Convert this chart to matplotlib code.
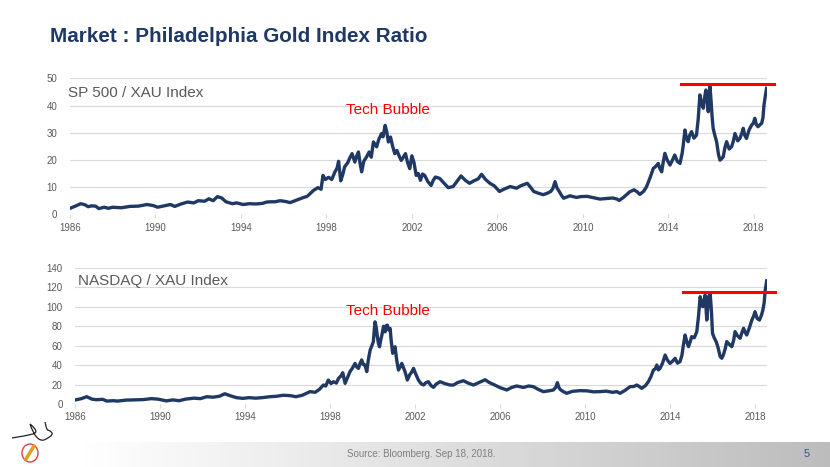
import matplotlib
matplotlib.use("Agg")
import matplotlib.pyplot as plt
import numpy as np
from matplotlib.patches import Ellipse, PathPatch
from matplotlib.path import Path

plt.rcParams['font.family'] = ['Liberation Sans', 'DejaVu Sans']

# ---------------- data ----------------
sp_years = [1986.0, 1986.25, 1986.5, 1986.7, 1986.85, 1987.0, 1987.2, 1987.35, 1987.6, 1987.8,
            1988.0, 1988.4, 1988.8, 1989.2, 1989.6, 1989.9, 1990.1, 1990.4, 1990.7, 1990.9,
            1991.2, 1991.5, 1991.8, 1992.0, 1992.3, 1992.5, 1992.7, 1992.9, 1993.1, 1993.3,
            1993.6, 1993.8, 1994.1, 1994.4, 1994.7, 1995.0, 1995.2, 1995.4, 1995.6, 1995.83,
            1996.1, 1996.3, 1996.6, 1996.9, 1997.1, 1997.4, 1997.6, 1997.75, 1997.84, 1997.95,
            1998.1, 1998.25, 1998.4, 1998.5, 1998.57, 1998.67, 1998.78, 1998.85, 1999.0, 1999.1,
            1999.2, 1999.33, 1999.42, 1999.5, 1999.57, 1999.65, 1999.75, 1999.88, 2000.0, 2000.1,
            2000.2, 2000.35, 2000.45, 2000.58, 2000.65, 2000.75, 2000.82, 2000.9, 2001.0, 2001.1,
            2001.2, 2001.3, 2001.4, 2001.5, 2001.6, 2001.7, 2001.8, 2001.9, 2002.0, 2002.1,
            2002.2, 2002.3, 2002.4, 2002.5, 2002.6, 2002.75, 2002.9, 2003.0, 2003.1, 2003.3,
            2003.5, 2003.7, 2003.93, 2004.1, 2004.3, 2004.5, 2004.7, 2004.9, 2005.1, 2005.26,
            2005.45, 2005.65, 2005.85, 2006.1, 2006.3, 2006.6, 2006.9, 2007.1, 2007.4, 2007.55,
            2007.7, 2007.9, 2008.15, 2008.35, 2008.5, 2008.6, 2008.7, 2008.8, 2008.85, 2009.0,
            2009.1, 2009.4, 2009.7, 2009.9, 2010.2, 2010.5, 2010.8, 2011.1, 2011.4, 2011.6,
            2011.7, 2011.9, 2012.2, 2012.4, 2012.55, 2012.67, 2012.85, 2012.98, 2013.15, 2013.3,
            2013.4, 2013.53, 2013.6, 2013.69, 2013.76, 2013.84, 2013.95, 2014.08, 2014.2, 2014.3,
            2014.42, 2014.55, 2014.65, 2014.7, 2014.78, 2014.85, 2014.93, 2015.0, 2015.09, 2015.2,
            2015.32, 2015.4, 2015.48, 2015.55, 2015.64, 2015.7, 2015.76, 2015.82, 2015.87, 2015.92,
            2015.95, 2016.0, 2016.05, 2016.1, 2016.18, 2016.26, 2016.35, 2016.42, 2016.5, 2016.57,
            2016.65, 2016.73, 2016.85, 2016.96, 2017.05, 2017.12, 2017.25, 2017.35, 2017.45, 2017.51,
            2017.58, 2017.66, 2017.78, 2017.9, 2017.98, 2018.05, 2018.12, 2018.2, 2018.3, 2018.37,
            2018.43, 2018.48, 2018.55, 2018.6]
sp_values = [2.2, 3.0, 3.9, 3.5, 2.8, 3.1, 3.0, 2.1, 2.6, 2.2,
             2.6, 2.4, 2.9, 3.0, 3.6, 3.2, 2.6, 3.1, 3.6, 2.9,
             3.8, 4.5, 4.2, 5.0, 4.8, 5.7, 5.0, 6.5, 6.0, 4.6,
             3.9, 4.2, 3.6, 3.9, 3.8, 4.0, 4.5, 4.6, 4.6, 5.0,
             4.7, 4.3, 5.2, 6.1, 6.6, 8.8, 9.8, 9.2, 14.3, 12.8,
             13.6, 12.8, 15.6, 17.0, 19.5, 12.3, 15.0, 17.4, 19.0, 20.8,
             22.3, 19.2, 21.5, 22.9, 19.0, 15.6, 19.5, 21.1, 22.9, 21.0,
             26.6, 24.8, 27.5, 29.7, 28.5, 32.7, 30.5, 26.6, 28.4, 25.0,
             22.3, 23.5, 21.5, 19.8, 21.0, 22.3, 19.0, 16.8, 21.5, 19.0,
             14.3, 15.0, 12.5, 14.8, 14.3, 12.0, 10.6, 12.5, 13.7, 13.2,
             11.5, 9.8, 10.2, 12.0, 14.1, 12.5, 11.4, 12.3, 13.0, 14.7,
             12.8, 11.4, 10.5, 8.4, 9.2, 10.2, 9.6, 10.5, 11.4, 10.0,
             8.4, 7.8, 7.2, 7.8, 8.4, 9.5, 12.0, 9.5, 9.0, 7.0,
             5.9, 6.8, 6.2, 6.5, 6.6, 6.1, 5.6, 5.8, 6.0, 5.6,
             5.1, 6.2, 8.3, 9.0, 8.2, 7.3, 8.5, 10.1, 13.5, 16.9,
             17.5, 18.7, 17.0, 15.6, 19.0, 22.4, 20.0, 18.1, 20.0, 21.8,
             19.5, 18.7, 22.5, 25.4, 31.0, 28.0, 26.7, 29.0, 30.4, 28.0,
             29.1, 35.0, 43.9, 41.0, 39.0, 43.0, 45.7, 42.0, 37.7, 44.0,
             47.0, 42.0, 36.0, 31.6, 29.0, 26.7, 22.0, 19.9, 20.5, 21.1,
             24.5, 26.7, 24.0, 24.8, 27.0, 29.7, 27.0, 27.9, 30.0, 31.6,
             29.0, 27.9, 31.0, 32.8, 33.5, 35.3, 33.0, 32.2, 33.0, 33.4,
             35.5, 40.2, 44.0, 46.3]

nq_years = [1986.0, 1986.3, 1986.55, 1986.8, 1987.0, 1987.3, 1987.5, 1987.8, 1988.0, 1988.4,
            1988.8, 1989.2, 1989.6, 1989.9, 1990.3, 1990.6, 1990.9, 1991.2, 1991.6, 1991.9,
            1992.2, 1992.5, 1992.8, 1993.05, 1993.3, 1993.6, 1993.9, 1994.2, 1994.5, 1994.8,
            1995.18, 1995.5, 1995.8, 1996.12, 1996.4, 1996.7, 1997.06, 1997.3, 1997.5, 1997.69,
            1997.8, 1997.92, 1998.05, 1998.16, 1998.3, 1998.4, 1998.52, 1998.6, 1998.71, 1998.82,
            1998.94, 1999.06, 1999.18, 1999.26, 1999.34, 1999.42, 1999.49, 1999.57, 1999.65, 1999.73,
            1999.8, 1999.89, 1999.97, 2000.04, 2000.08, 2000.12, 2000.18, 2000.23, 2000.28, 2000.33,
            2000.38, 2000.44, 2000.52, 2000.59, 2000.65, 2000.7, 2000.76, 2000.83, 2000.88, 2000.95,
            2001.0, 2001.06, 2001.14, 2001.22, 2001.3, 2001.38, 2001.46, 2001.53, 2001.64, 2001.75,
            2001.85, 2001.93, 2002.05, 2002.16, 2002.28, 2002.4, 2002.52, 2002.63, 2002.75, 2002.87,
            2003.0, 2003.18, 2003.4, 2003.65, 2003.81, 2004.0, 2004.28, 2004.5, 2004.75, 2005.0,
            2005.3, 2005.5, 2005.75, 2006.0, 2006.32, 2006.55, 2006.79, 2007.1, 2007.35, 2007.57,
            2007.8, 2008.04, 2008.3, 2008.51, 2008.62, 2008.7, 2008.78, 2008.86, 2009.0, 2009.14,
            2009.4, 2009.77, 2010.1, 2010.4, 2010.71, 2011.0, 2011.3, 2011.49, 2011.65, 2011.85,
            2012.12, 2012.3, 2012.44, 2012.55, 2012.67, 2012.85, 2012.98, 2013.1, 2013.22, 2013.3,
            2013.38, 2013.45, 2013.53, 2013.65, 2013.77, 2013.88, 2014.0, 2014.12, 2014.24, 2014.35,
            2014.47, 2014.56, 2014.63, 2014.71, 2014.8, 2014.87, 2014.95, 2015.02, 2015.14, 2015.26,
            2015.34, 2015.42, 2015.48, 2015.54, 2015.6, 2015.65, 2015.69, 2015.73, 2015.77, 2015.81,
            2015.86, 2015.89, 2015.95, 2016.0, 2016.08, 2016.17, 2016.26, 2016.36, 2016.44, 2016.51,
            2016.6, 2016.67, 2016.8, 2016.91, 2017.0, 2017.06, 2017.18, 2017.3, 2017.38, 2017.46,
            2017.53, 2017.61, 2017.73, 2017.85, 2017.93, 2018.0, 2018.1, 2018.21, 2018.3, 2018.37,
            2018.43, 2018.48, 2018.55]
nq_values = [4.1, 5.5, 7.5, 5.0, 4.4, 4.8, 3.0, 3.4, 3.0, 4.0,
             4.2, 4.5, 5.5, 5.0, 3.2, 4.2, 3.4, 5.0, 6.0, 5.5,
             7.5, 7.0, 8.0, 10.5, 8.5, 6.5, 5.8, 6.5, 6.0, 6.5,
             7.5, 8.0, 9.0, 8.6, 7.5, 9.0, 12.7, 12.0, 15.0, 19.5,
             18.5, 24.6, 21.0, 22.9, 21.5, 26.3, 29.0, 32.1, 21.2, 27.0,
             33.2, 37.0, 41.7, 38.0, 36.6, 42.0, 45.2, 40.5, 40.0, 33.2,
             45.0, 55.4, 60.0, 63.9, 75.0, 84.4, 78.0, 69.0, 62.0, 58.8,
             65.0, 70.7, 79.9, 74.1, 80.5, 81.0, 76.0, 77.6, 65.0, 52.1,
             55.0, 58.8, 45.0, 34.9, 38.0, 41.7, 37.0, 33.2, 24.6, 30.0,
             33.0, 36.6, 30.0, 24.6, 21.0, 19.5, 22.0, 22.9, 19.0, 17.1,
             20.5, 22.9, 21.0, 19.5, 19.5, 22.0, 23.9, 21.5, 19.5, 22.0,
             24.9, 22.0, 19.5, 16.8, 14.4, 17.0, 18.5, 17.0, 18.5, 17.8,
             15.0, 12.7, 13.5, 14.4, 17.0, 21.9, 16.5, 14.4, 12.5, 11.0,
             13.0, 13.7, 13.5, 12.5, 12.7, 13.2, 12.0, 12.7, 11.0, 13.5,
             17.8, 18.0, 19.5, 18.0, 16.1, 19.0, 22.9, 28.0, 34.9, 36.0,
             40.0, 35.0, 36.6, 42.0, 50.3, 45.0, 41.7, 44.0, 46.9, 42.0,
             43.5, 50.0, 60.6, 70.9, 63.0, 58.9, 64.0, 69.2, 68.0, 74.3,
             90.0, 110.2, 104.0, 99.9, 106.0, 111.9, 100.0, 86.2, 97.0, 110.2,
             112.0, 113.6, 95.0, 72.6, 68.0, 64.1, 58.0, 48.7, 47.0, 50.3,
             57.0, 64.1, 61.0, 58.9, 66.0, 74.3, 70.0, 67.5, 73.0, 77.8,
             74.0, 70.9, 78.0, 86.2, 90.0, 94.8, 88.0, 86.2, 91.0, 96.5,
             104.0, 117.0, 126.6]

x_ticks = [1986, 1990, 1994, 1998, 2002, 2006, 2010, 2014, 2018]
sp_yticks = [0, 10, 20, 30, 40, 50]
nq_yticks = [0, 20, 40, 60, 80, 100, 120, 140]
sp_red_level = 47.8
nq_red_level = 115
red_span = [2014.6, 2018.95]

title = "Market : Philadelphia Gold Index Ratio"
sp_label = "SP 500 / XAU Index"
nq_label = "NASDAQ / XAU Index"
bubble = "Tech Bubble"
source = "Source: Bloomberg. Sep 18, 2018."
page = "5"

# ---------------- figure ----------------
W, H = 830, 467
fig = plt.figure(figsize=(W / 100, H / 100), dpi=100)
fig.patch.set_facecolor('white')

def px(x, y):
    return x / W, 1 - y / H

NAVY = '#1F3864'
GRID = '#D9D9D9'
TXT = '#595959'

def make_ax(l, r, t, b):
    ax = fig.add_axes([l / W, 1 - b / H, (r - l) / W, (b - t) / H])
    for s in ax.spines.values():
        s.set_visible(False)
    ax.grid(axis='y', color=GRID, lw=0.8)
    ax.set_axisbelow(True)
    ax.tick_params(axis='y', length=0, labelsize=7, labelcolor=TXT, pad=9)
    ax.tick_params(axis='x', length=3, color=GRID, labelsize=7, labelcolor=TXT, pad=3)
    ax.set_xticks(x_ticks)
    ax.set_xticklabels([str(t) for t in x_ticks])
    return ax

ax1 = make_ax(70, 767, 78.3, 214.3)
ax1.plot(sp_years, sp_values, color=NAVY, lw=2.4, solid_joinstyle='round')
ax1.set_xlim(1986, 2018.62)
ax1.set_ylim(0, 50)
ax1.set_yticks(sp_yticks)
ax1.plot(red_span, [sp_red_level, sp_red_level], color='#FF0000', lw=2.2, clip_on=False)

ax2 = make_ax(75, 766.7, 267.7, 404)
ax2.plot(nq_years, nq_values, color=NAVY, lw=2.4, solid_joinstyle='round')
ax2.set_xlim(1986, 2018.55)
ax2.set_ylim(0, 140)
ax2.set_yticks(nq_yticks)
ax2.plot(red_span, [nq_red_level, nq_red_level], color='#FF0000', lw=2.2, clip_on=False)

# texts
fig.text(*px(50, 37), title, fontsize=14.9, fontweight='bold', color=NAVY, va='center', ha='left')
fig.text(*px(68, 93), sp_label, fontsize=11, color=TXT, va='center', ha='left')
fig.text(*px(78, 281), nq_label, fontsize=11, color=TXT, va='center', ha='left')
fig.text(*px(346, 110), bubble, fontsize=11, color='#FF0000', va='center', ha='left')
fig.text(*px(346, 311), bubble, fontsize=11, color='#FF0000', va='center', ha='left')

# footer gradient band
fax = fig.add_axes([0, 0, 1, 25 / H])
fax.set_axis_off()
g = np.linspace(0, 1, 256)
g = np.clip((g - 0.1) / 0.9, 0, 1)
col = np.ones((1, 256, 3))
shade = 1 - 0.26 * g
col[0, :, 0] = shade
col[0, :, 1] = shade
col[0, :, 2] = shade
fax.imshow(col, aspect='auto', extent=[0, 1, 0, 1])
fax.set_xlim(0, 1)
fax.set_ylim(0, 1)

fig.text(*px(421, 454), source, fontsize=7, color='#7F7F7F', va='center', ha='center')
fig.text(*px(807, 454), page, fontsize=8, color='#2F5597', va='center', ha='center')

# simple logo
lax = fig.add_axes([0, 0, 70 / W, 45 / H])
lax.set_xlim(0, 70)
lax.set_ylim(45, 0)
lax.set_axis_off()
lax.add_patch(Ellipse((30, 31), 16, 18, fill=False, ec='#E04040', lw=1.0))
verts = [(12, 16), (25, 14), (33, 12), (40, 10), (30, 2), (36, 20), (44, 18), (58, 12), (48, 8), (40, 14)]
codes = [Path.MOVETO, Path.CURVE3, Path.CURVE3, Path.CURVE3, Path.CURVE3, Path.CURVE3, Path.CURVE3,
         Path.CURVE3, Path.CURVE3, Path.CURVE3]
lax.add_patch(PathPatch(Path(verts, codes), fill=False, ec='#222222', lw=0.9))
lax.plot([26, 34], [37, 24], color='#E0A020', lw=2.5, solid_capstyle='round')

fig.savefig('out.png', dpi=100)
